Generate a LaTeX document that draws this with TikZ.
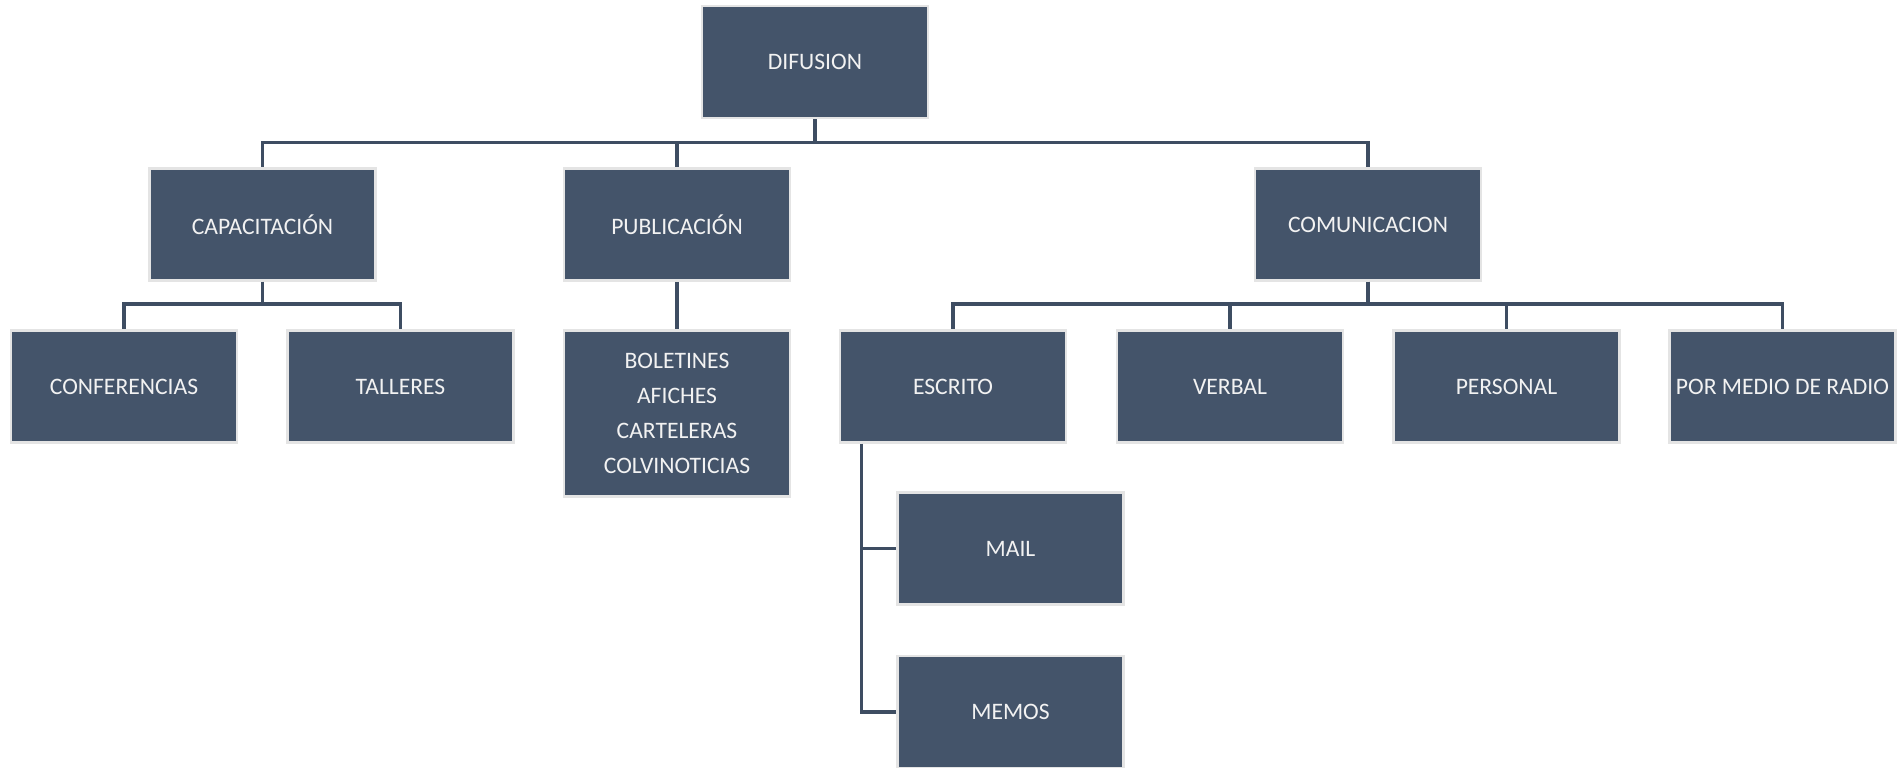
\documentclass[tikz,border=0pt]{standalone}
\usepackage{fontspec}
\setmainfont{Carlito}
\usepackage{xcolor}
\definecolor{pizarra}{HTML}{44546A}
\definecolor{lineaorg}{HTML}{3E4D62}
\definecolor{bordeorg}{HTML}{E4E4E4}
\definecolor{textoorg}{HTML}{F2F2F2}

\tikzset{
	unidad/.style={rectangle, fill=pizarra, draw=bordeorg, line width=1.3pt,
		minimum width=113pt, minimum height=56pt, inner sep=2pt,
		text=textoorg, align=center, font=\fontsize{11.8}{17.5}\selectfont},
	enlace/.style={draw=lineaorg, line width=1.7pt},
}

\begin{document}
\begin{tikzpicture}[x=0.5pt, y=-0.5pt]
	\useasboundingbox (0,0) rectangle (1897,767);

	% nivel 1
	\node[unidad] (dif) at (815,62) {DIFUSION};

	% nivel 2
	\node[unidad] (cap) at (262.5,224.5) {CAPACITACIÓN};
	\node[unidad] (pub) at (677,224.5) {PUBLICACIÓN};
	\node[unidad] (com) at (1368,224.5) {COMUNICACION};

	% nivel 3
	\node[unidad] (conf) at (124,386.5) {CONFERENCIAS};
	\node[unidad] (tall) at (400.5,386.5) {TALLERES};
	\node[unidad, minimum height=83pt] (bol) at (677,413.5) {BOLETINES\\AFICHES\\CARTELERAS\\COLVINOTICIAS};
	\node[unidad] (esc) at (953,386.5) {ESCRITO};
	\node[unidad] (verb) at (1230,386.5) {VERBAL};
	\node[unidad] (pers) at (1506.5,386.5) {PERSONAL};
	\node[unidad] (radio) at (1782.5,386.5) {POR MEDIO DE RADIO};

	% nivel 4
	\node[unidad] (mail) at (1010.5,548.5) {MAIL};
	\node[unidad] (memos) at (1010.5,712) {MEMOS};

	% conexiones
	\foreach \hijo in {cap, pub, com}
		\draw[enlace] (dif.south) -- ++(0,23) -| (\hijo.north);
	\foreach \hijo in {conf, tall}
		\draw[enlace] (cap.south) -- ++(0,22) -| (\hijo.north);
	\draw[enlace] (pub.south) -- (bol.north);
	\foreach \hijo in {esc, verb, pers, radio}
		\draw[enlace] (com.south) -- ++(0,22) -| (\hijo.north);
	\draw[enlace] ([xshift=11.5pt]esc.south west) |- (mail.west);
	\draw[enlace] ([xshift=11.5pt]esc.south west) |- (memos.west);
\end{tikzpicture}
\end{document}
